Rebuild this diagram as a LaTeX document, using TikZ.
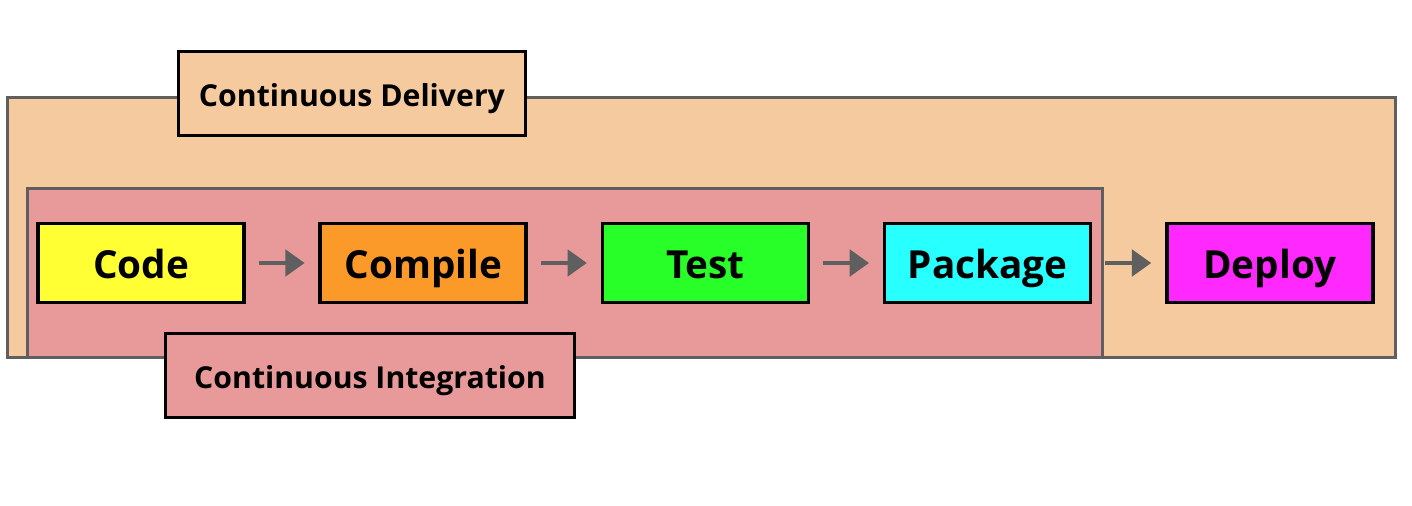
\documentclass[tikz,border=0pt]{standalone}
\usepackage{fontspec}
\setmainfont{Open Sans}
\usetikzlibrary{positioning,arrows.meta}
\definecolor{pipepeach}{RGB}{246,202,159}
\definecolor{pipepink}{RGB}{232,154,154}
\definecolor{pipegray}{RGB}{95,95,95}
\definecolor{pipeyellow}{RGB}{255,255,51}
\definecolor{pipeorange}{RGB}{251,154,40}
\definecolor{pipegreen}{RGB}{40,255,40}
\definecolor{pipecyan}{RGB}{40,255,255}
\definecolor{pipemagenta}{RGB}{255,40,255}

\begin{document}
\begin{tikzpicture}[
    area/.style={draw=pipegray,line width=0.85pt},
    tag/.style={draw=black,line width=0.9pt,minimum height=0.84cm,
        text height=0.8em,text depth=0.07em,
        font=\fontsize{8.6}{10}\selectfont\bfseries},
    stagebox/.style={draw=black,line width=1.05pt,minimum width=2.06cm,
        minimum height=0.79cm,text height=0.9em,text depth=0.04em,
        font=\fontsize{11}{13}\selectfont\bfseries},
    flow/.style={-{Triangle[length=5.5pt,width=7.5pt]},pipegray,line width=1.2pt,
        shorten <=3.7pt,shorten >=3.9pt},
    node distance=0.725cm]
    \useasboundingbox (0,0) rectangle (14.12,-5.06);
    % delivery and integration areas
    \filldraw[area,fill=pipepeach] (0.075,-0.975) rectangle (13.955,-3.575);
    \filldraw[area,fill=pipepink] (0.275,-1.885) rectangle (11.025,-3.575);
    \node[tag,fill=pipepeach,minimum width=3.47cm] (cdtag) at (3.52,-0.935)
        {Continuous Delivery};
    \node[tag,fill=pipepink,minimum width=4.09cm] (citag) at (3.70,-3.755)
        {Continuous Integration};
    % stages
    \node[stagebox,fill=pipeyellow] (code) at (1.41,-2.63) {Code};
    \node[stagebox,fill=pipeorange,right=of code] (compile) {Compile};
    \node[stagebox,fill=pipegreen,right=of compile] (test) {Test};
    \node[stagebox,fill=pipecyan,right=of test] (package) {Package};
    \node[stagebox,fill=pipemagenta,right=of package] (deploy) {Deploy};
    \foreach \a/\b in {code/compile,compile/test,test/package,package/deploy}{
        \draw[flow] (\a) -- (\b);
    }
\end{tikzpicture}
\end{document}
